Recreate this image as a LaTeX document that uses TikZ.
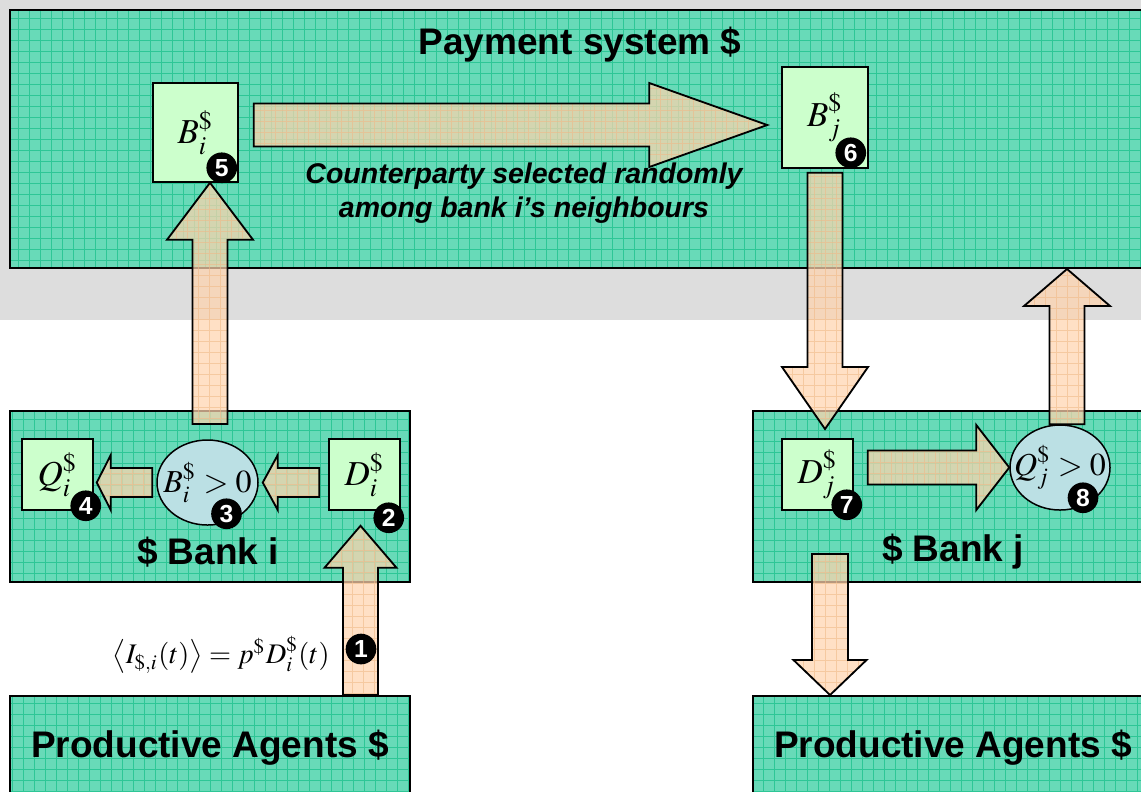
\documentclass[tikz,border=0pt]{standalone}
\usepackage{mathptmx}
\usepackage{fontspec}
\setsansfont{Liberation Sans}
\usetikzlibrary{positioning, calc, shapes.geometric}

\definecolor{bggray}{RGB}{221,221,221}
\definecolor{tealfill}{RGB}{104,218,184}
\definecolor{tealgrid}{RGB}{46,198,150}
\definecolor{boxgreen}{RGB}{204,255,204}
\definecolor{ovalblue}{RGB}{187,224,228}
\definecolor{peach}{RGB}{255,212,174}
\definecolor{peachgrid}{RGB}{240,186,136}

% fat arrow: shaft half width, head half width, head length (px), from, to
\newcommand{\fatarrow}[5]{%
  \coordinate (fa_s) at (#4);
  \coordinate (fa_e) at (#5);
  \coordinate (fa_h) at ($(fa_e)!#3*0.3pt!(fa_s)$);
  \draw[fat_arrow] ($(fa_s)!#1*0.3pt!90:(fa_e)$) -- ($(fa_h)!#1*0.3pt!90:(fa_e)$) -- ($(fa_h)!#2*0.3pt!90:(fa_e)$) -- (fa_e)
    -- ($(fa_h)!#2*0.3pt!-90:(fa_e)$) -- ($(fa_h)!#1*0.3pt!-90:(fa_e)$) -- ($(fa_s)!#1*0.3pt!-90:(fa_e)$) -- cycle;
}

\begin{document}
\begin{tikzpicture}
    [
        x=0.3pt, y=-0.3pt,
        teal_box/.style={rectangle, draw=black, line width=0.6pt, fill=tealfill, inner sep=0pt,
            path picture={\draw[tealgrid, line width=0.3pt] (path picture bounding box.south west) grid[step=3.3pt] (path picture bounding box.north east);}},
        green_box/.style={rectangle, draw=black, line width=0.45pt, fill=boxgreen, inner sep=0pt, font=\fontsize{10.5}{12}\selectfont},
        blue_oval/.style={ellipse, draw=black, line width=0.45pt, fill=ovalblue, inner sep=0pt},
        fat_arrow/.style={draw=black, line width=0.55pt, fill=peach, fill opacity=0.72, line join=miter,
            path picture={\draw[peachgrid, line width=0.3pt, draw opacity=0.6] (path picture bounding box.south west) grid[step=3.3pt] (path picture bounding box.north east);}},
        num_badge/.style={circle, fill=black, text=white, inner sep=0pt, minimum size=9.2pt, font=\sffamily\bfseries\fontsize{7.4}{8}\selectfont},
        title_text/.style={font=\sffamily\bfseries\fontsize{11.1}{13}\selectfont},
        note_text/.style={align=center, font=\sffamily\bfseries\itshape\fontsize{8.55}{10.2}\selectfont},
        math_text/.style={inner sep=1pt, font=\fontsize{9.6}{11}\selectfont},
    ]
        \useasboundingbox (0,0) rectangle (1141,791);
        \fill[bggray] (0,0) rectangle (1141,320);

        % payment system
        \node[teal_box, minimum width=348pt, minimum height=77.4pt] (payment) at (590,139) {};
        \node[title_text] (paytitle) at (580,45) {Payment system \$};
        \node[green_box, minimum width=25.5pt, minimum height=29.7pt] (Bi) at (195.5,132.5) {$B_i^{\$}$};
        \node[green_box, minimum width=25.8pt, minimum height=30.3pt] (Bj) at (825,117.5) {$B_j^{\$}$};
        \node[note_text] (pick) at (524,193) {Counterparty selected randomly\\among bank i’s neighbours};

        % bank i
        \node[teal_box, minimum width=120pt, minimum height=51.3pt] (bankI) at (210,496.5) {};
        \node[title_text] (bankIlabel) at (208,552) {\$ Bank i};
        \node[green_box, minimum size=21.3pt] (Qi) at (57.5,474.5) {$Q_i^{\$}$};
        \node[blue_oval, minimum width=30.3pt, minimum height=25.5pt, label={[math_text]center:$B_i^{\$}>0$}] (BiPos) at (207.5,482.5) {};
        \node[green_box, minimum size=21.3pt] (Di) at (364.5,474.5) {$D_i^{\$}$};
        \node[teal_box, minimum width=120pt, minimum height=37.2pt] (prodI) at (210,758) {};
        \node[title_text] (prodIlabel) at (210,748) {Productive Agents \$};
        \node[math_text, font=\fontsize{8.5}{10}\selectfont] (flow) at (221,655) {$\left\langle I_{\$,i}(t)\right\rangle = p^{\$}D_i^{\$}(t)$};

        % bank j
        \node[teal_box, minimum width=125.1pt, minimum height=51.3pt] (bankJ) at (961.5,496.5) {};
        \node[title_text] (bankJlabel) at (953,552) {\$ Bank j};
        \node[green_box, minimum size=21.3pt] (Dj) at (817.5,474.5) {$D_j^{\$}$};
        \node[blue_oval, minimum width=30pt, minimum height=25.5pt, label={[math_text]center:$Q_j^{\$}>0$}] (QjPos) at (1060,467.5) {};
        \node[teal_box, minimum width=125.1pt, minimum height=37.2pt] (prodJ) at (961.5,758) {};
        \node[title_text] (prodJlabel) at (953,748) {Productive Agents \$};

        % flows
        \fatarrow{17.5}{36}{42}{$(prodI.north)+(150.5,0)$}{$(Di.south)+(-4,15)$}
        \fatarrow{14.5}{27.5}{15}{$(Di.west |- BiPos.east)+(-9,0)$}{$(BiPos.east)+(4,0)$}
        \fatarrow{14.5}{27.5}{14}{$(BiPos.west)+(-4,0)$}{$(Qi.east |- BiPos.west)+(3,0)$}
        \fatarrow{17.5}{43}{57}{$(bankI.north)+(0,14)$}{bankI.north |- Bi.south}
        \fatarrow{21.5}{42}{118}{$(Bi.east)+(15,-7.5)$}{$(Bj.west)+(-14,7.5)$}
        \fatarrow{17.5}{43}{62}{$(Bj.south)+(0,4)$}{$(Bj.south |- bankJ.north)+(0,19)$}
        \fatarrow{17}{42.5}{33}{$(Dj.east |- QjPos.west)+(14,0)$}{QjPos.west}
        \fatarrow{17.5}{43}{37}{$(QjPos.north)+(7,0)$}{$(QjPos.north |- payment.south)+(7,0)$}
        \fatarrow{18}{36.5}{35}{$(bankJ.south west)+(78,-29)$}{$(bankJ.south west |- prodJ.north)+(78,0)$}

        % step numbers
        \node[num_badge] (n1) at (361,649) {1};
        \node[num_badge] (n2) at ($(Di.south east)+(-12,7)$) {2};
        \node[num_badge] (n3) at ($(BiPos.south)+(19,-12)$) {3};
        \node[num_badge] (n4) at ($(Qi.south east)+(-8,-5)$) {4};
        \node[num_badge] (n5) at ($(Bi.south east)+(-17,-15)$) {5};
        \node[num_badge] (n6) at ($(Bj.south east)+(-18,-16)$) {6};
        \node[num_badge] (n7) at ($(Dj.south east)+(-7,-6)$) {7};
        \node[num_badge] (n8) at ($(QjPos.south)+(23,-13)$) {8};
\end{tikzpicture}
\end{document}
